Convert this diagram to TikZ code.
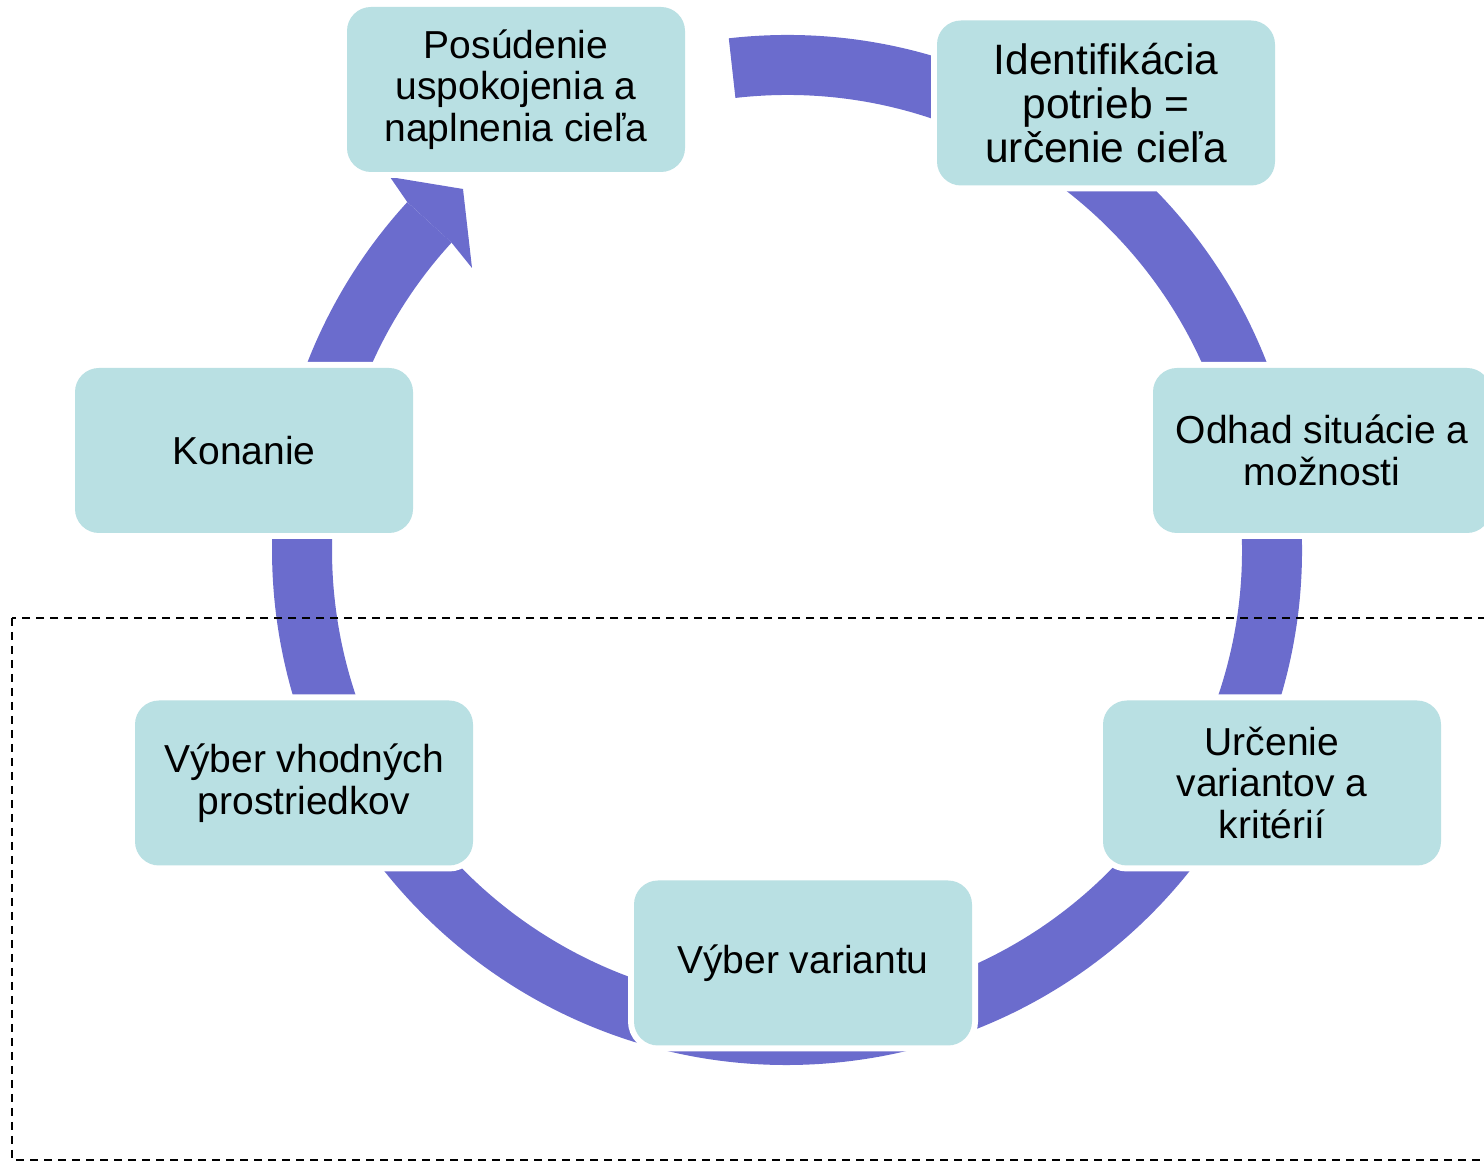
\documentclass[tikz,border=0pt]{standalone}
\usepackage{fontspec}
\setmainfont{Liberation Sans}
\definecolor{ringc}{RGB}{107,108,205}
\definecolor{boxc}{RGB}{185,224,227}
\begin{document}
\begin{tikzpicture}[x=1pt,y=1pt,
  box/.style={rectangle, rounded corners=24pt, fill=boxc,
    minimum width=338pt, minimum height=165pt, inner sep=0pt,
    align=center, font=\fontsize{39}{41.5}\selectfont,
    preaction={draw=white, line width=12pt}},
  ring/.style={draw=ringc, line width=60pt},
  framebox/.style={draw=black, line width=2pt, dash pattern=on 8pt off 6pt}]
\useasboundingbox (0,0) rectangle (1484,1161);
\coordinate (C) at (787,611);
% ring
\draw[ring] (C) ++(96.5:485) arc[start angle=96.5, end angle=-222.5, radius=485];
% arrow head
\fill[ringc] (390,984) -- (463,972) -- (472,893) -- (451.5,918.4) -- (407.3,958.9) -- cycle;
% dashed frame
\draw[framebox] (12,543) rectangle (1495,1);
% boxes
\node[box] (n1) at (516,1071.5) {Posúdenie\\uspokojenia a\\naplnenia cieľa};
\node[box, font=\fontsize{42.5}{44}\selectfont] (n2) at (1106,1058) {Identifikácia\\potrieb =\\určenie cieľa};
\node[box] (n3) at (1322,710.5) {Odhad situácie a\\možnosti};
\node[box] (n4) at (1272,378) {Určenie\\variantov a\\kritérií};
\node[box] (n5) at (803,198) {Výber variantu};
\node[box] (n6) at (304,378) {Výber vhodných\\prostriedkov};
\node[box] (n7) at (244,710.5) {Konanie};
\end{tikzpicture}
\end{document}
